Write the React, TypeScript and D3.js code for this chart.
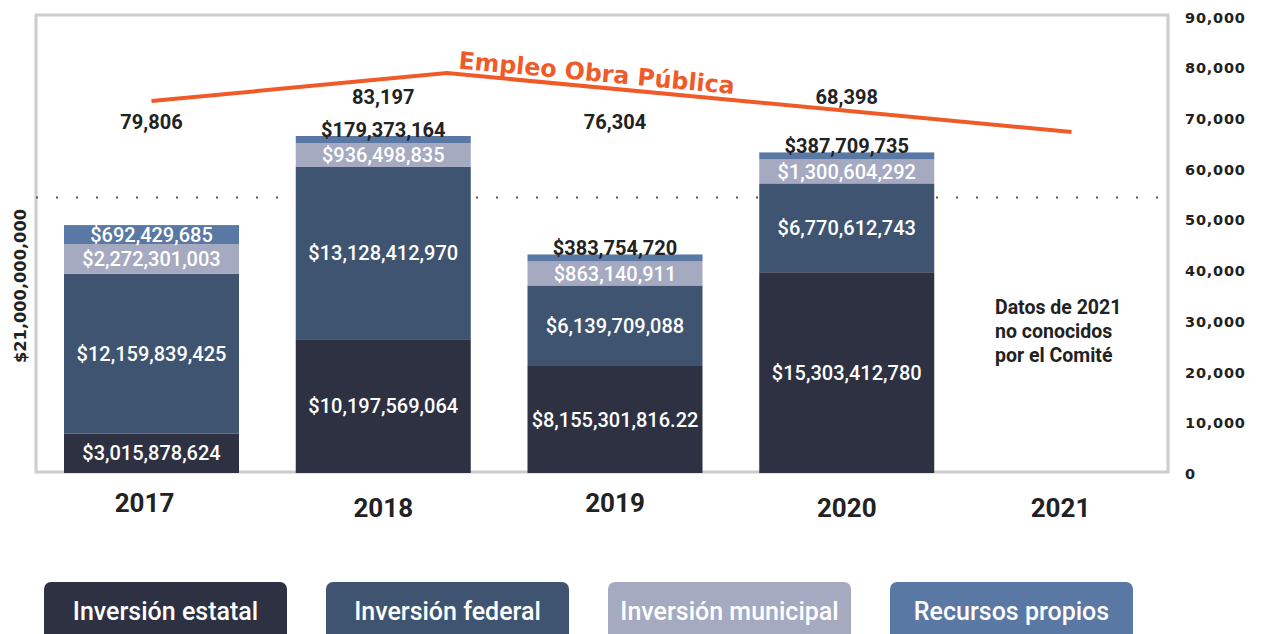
import React from "react";
import * as d3 from "d3";

// ---------- data ----------
const years = ["2017", "2018", "2019", "2020", "2021"];
const seriesNames = ["Inversión estatal", "Inversión federal", "Inversión municipal", "Recursos propios"];
const inversionEstatal = [3015878624, 10197569064, 8155301816.22, 15303412780];
const inversionFederal = [12159839425, 13128412970, 6139709088, 6770612743];
const inversionMunicipal = [2272301003, 936498835, 863140911, 1300604292];
const recursosPropios = [692429685, 179373164, 383754720, 387709735];
const empleoValues = [79806, 83197, 76304, 68398];
// orange trend line as drawn in the picture (year position, jobs on right axis)
const empleoLineYears = [2017, 2018.275, 2020.97];
const empleoLineValues = [73500, 79000, 67400];
const referenceAmount = 21000000000;
const empleoTicks = [0, 10000, 20000, 30000, 40000, 50000, 60000, 70000, 80000, 90000];
const noteLines = ["Datos de 2021", "no conocidos", "por el Comité"];
const lineTitle = "Empleo Obra Pública";

const colors = ["#2d3142", "#3f5470", "#a5aac1", "#5a78a4"];
const ORANGE = "#f05a28";
const TEXT = "#222222";

const W = 1262;
const H = 634;
const plot = { left: 36, right: 1168, top: 15, bottom: 473 };
const BAR_W = 175;
const YEAR_DY = [0, 5, 0, 5, 5];
const EMP_LABEL_Y = [121.5, 97];
// minimum visible segment heights (px) so that labels stay legible
const MIN_H = [0, 0, 24, 7];
const MIN_H_LABELLED_TOP = 19;
const TOP_INSIDE_THRESHOLD = 5e8;

function money(v: number) {
  const frac = Math.round((v % 1) * 100);
  const s = "$" + d3.format(",")(Math.floor(v));
  return frac ? s + "." + String(frac).padStart(2, "0") : s;
}

export default function App() {
  const x = d3.scalePoint<string>().domain(years).range([151.5, 1078.5]);
  const xYear = d3.scaleLinear().domain([2017, 2021]).range([151.5, 1078.5]);
  const yMoney = d3.scaleLinear().domain([0, referenceAmount]).range([plot.bottom, 197.5]);
  const yEmp = d3.scaleLinear().domain([0, 90000]).range([474, 17.3]);

  const series = [inversionEstatal, inversionFederal, inversionMunicipal, recursosPropios];

  // stack segments in pixel space, each height from the money scale (with a legibility minimum)
  type Seg = { layer: number; i: number; v: number; yTop: number; yBot: number; inside: boolean };
  const segs: Seg[] = [];
  years.slice(0, 4).forEach((_, i) => {
    let cur = plot.bottom;
    series.forEach((arr, li) => {
      const v = arr[i];
      const raw = plot.bottom - yMoney(v);
      let minH = MIN_H[li];
      let inside = true;
      if (li === 3) {
        inside = v >= TOP_INSIDE_THRESHOLD;
        if (inside) minH = MIN_H_LABELLED_TOP;
      }
      const h = Math.max(raw, minH);
      segs.push({ layer: li, i, v, yTop: cur - h, yBot: cur, inside });
      cur -= h;
    });
  });

  const line = d3
    .line<number>()
    .x((_, i) => xYear(empleoLineYears[i]))
    .y((d) => yEmp(d));

  const fmt = d3.format(",");
  const robo = "Roboto, 'Noto Sans', sans-serif";
  const wide = "'DejaVu Sans', sans-serif";

  return (
    <svg width={W} height={H} style={{ position: "absolute", left: 0, top: 0, background: "#fff" }}>
      {/* frame */}
      <rect
        x={plot.left}
        y={plot.top}
        width={plot.right - plot.left}
        height={plot.bottom - plot.top - 1}
        fill="none"
        stroke="#cccccc"
        strokeWidth={3}
      />
      <text
        transform={`translate(25.5, ${286}) rotate(-90)`}
        textAnchor="middle"
        fontFamily={wide}
        fontWeight={700}
        fontSize={15}
        fill={TEXT}
        textLength={154}
        lengthAdjust="spacingAndGlyphs"
      >
        {money(referenceAmount)}
      </text>

      {/* bars */}
      {segs.map((s) => {
        const cx = x(years[s.i])!;
        return (
          <rect
            key={`${s.layer}-${s.i}`}
            x={cx - BAR_W / 2}
            y={s.yTop}
            width={BAR_W}
            height={s.yBot - s.yTop}
            fill={colors[s.layer]}
          />
        );
      })}

      {/* reference dotted line */}
      <line
        x1={plot.left}
        x2={plot.right}
        y1={yMoney(referenceAmount)}
        y2={yMoney(referenceAmount)}
        stroke="#555"
        strokeWidth={2}
        strokeDasharray="2 18"
      />

      {/* bar labels */}
      {segs.map((s) => {
        const cx = x(years[s.i])!;
        return (
          <text
            key={`t${s.layer}-${s.i}`}
            x={cx}
            y={s.inside ? (s.yTop + s.yBot) / 2 : s.yTop + 1}
            dy={s.inside ? "0.36em" : 0}
            textAnchor="middle"
            fontFamily={robo}
            fontWeight={s.inside ? 500 : 700}
            fontSize={20}
            fill={s.inside ? "#ffffff" : TEXT}
          >
            {money(s.v)}
          </text>
        );
      })}

      {/* employment line */}
      <path d={line(empleoLineValues) || ""} fill="none" stroke={ORANGE} strokeWidth={4} />
      <text
        transform="translate(458, 68.5) rotate(5.3)"
        fontFamily={wide}
        fontWeight={700}
        fontSize={24}
        fill={ORANGE}
        textLength={277}
        lengthAdjust="spacingAndGlyphs"
      >
        {lineTitle}
      </text>
      {empleoValues.map((v, i) => (
        <text
          key={i}
          x={x(years[i])}
          y={EMP_LABEL_Y[i % 2]}
          dy="0.36em"
          textAnchor="middle"
          fontFamily={robo}
          fontWeight={700}
          fontSize={20}
          fill={TEXT}
        >
          {fmt(v)}
        </text>
      ))}

      {/* right axis */}
      {empleoTicks.map((t) => (
        <text
          key={t}
          x={1185}
          y={yEmp(t)}
          dy="0.36em"
          fontFamily={wide}
          fontWeight={700}
          fontSize={14.5}
          letterSpacing={0.8}
          fill={TEXT}
        >
          {fmt(t)}
        </text>
      ))}

      {/* year labels */}
      {years.map((yr, i) => (
        <text
          key={yr}
          x={x(yr)! - (i === 4 ? 18 : 0) - (i === 0 ? 7 : 0)}
          y={512 + YEAR_DY[i]}
          textAnchor="middle"
          fontFamily={robo}
          fontWeight={700}
          fontSize={26}
          fill={TEXT}
        >
          {yr}
        </text>
      ))}

      {/* note */}
      <text fontFamily={robo} fontWeight={700} fontSize={19.5} fill={TEXT}>
        {noteLines.map((l, i) => (
          <tspan key={i} x={995} y={314 + i * 24}>
            {l}
          </tspan>
        ))}
      </text>

      {/* legend */}
      {seriesNames.map((name, i) => {
        const bx = 44 + i * 282;
        return (
          <g key={name}>
            <rect x={bx} y={582} width={243} height={70} rx={7} fill={colors[i]} />
            <text
              x={bx + 121.5}
              y={620}
              textAnchor="middle"
              fontFamily={robo}
              fontWeight={500}
              fontSize={25}
              fill="#ffffff"
            >
              {name}
            </text>
          </g>
        );
      })}
    </svg>
  );
}
